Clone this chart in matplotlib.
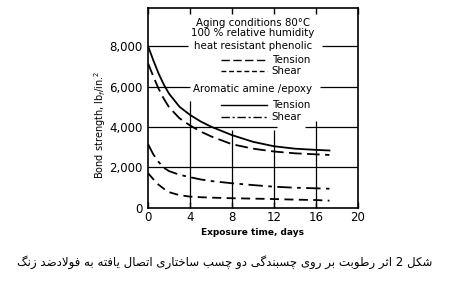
import matplotlib
matplotlib.use("Agg")
import matplotlib.pyplot as plt

# data
days = [0, 0.5, 1, 1.5, 2, 3, 4, 5, 6, 8, 10, 12, 14, 16, 17.3]
epoxy_tension = [8000, 7300, 6650, 6100, 5650, 5000, 4600, 4280, 4020, 3600, 3270, 3050, 2930, 2870, 2840]
phenolic_tension = [7150, 6500, 5900, 5400, 4980, 4430, 4080, 3780, 3540, 3150, 2930, 2790, 2700, 2650, 2620]
epoxy_shear = [3150, 2650, 2280, 1990, 1820, 1640, 1520, 1410, 1330, 1220, 1130, 1050, 1000, 970, 950]
phenolic_shear = [1720, 1420, 1150, 950, 780, 630, 560, 530, 510, 480, 460, 440, 410, 390, 360]

x_ticks = [0, 4, 8, 12, 16, 20]
y_ticks = [0, 2000, 4000, 6000, 8000]
y_tick_labels = ["0", "2,000", "4,000", "6,000", "8,000"]

caption = "شکل 2 اثر رطوبت بر روی چسبندگی دو چسب ساختاری اتصال یافته به فولادضد زنگ"

# --- tiny Persian shaper (matplotlib has no complex text layout) ---
# char: (isolated, final, initial, medial); two entries = joins only to the right
FORMS = {
    "ا": ("\uFE8D", "\uFE8E"), "ب": ("\uFE8F", "\uFE90", "\uFE91", "\uFE92"),
    "ت": ("\uFE95", "\uFE96", "\uFE97", "\uFE98"), "ث": ("\uFE99", "\uFE9A", "\uFE9B", "\uFE9C"),
    "چ": ("\uFB7A", "\uFB7B", "\uFB7C", "\uFB7D"), "خ": ("\uFEA5", "\uFEA6", "\uFEA7", "\uFEA8"),
    "د": ("\uFEA9", "\uFEAA"), "ر": ("\uFEAD", "\uFEAE"), "ز": ("\uFEAF", "\uFEB0"),
    "س": ("\uFEB1", "\uFEB2", "\uFEB3", "\uFEB4"), "ش": ("\uFEB5", "\uFEB6", "\uFEB7", "\uFEB8"),
    "ص": ("\uFEB9", "\uFEBA", "\uFEBB", "\uFEBC"), "ض": ("\uFEBD", "\uFEBE", "\uFEBF", "\uFEC0"),
    "ط": ("\uFEC1", "\uFEC2", "\uFEC3", "\uFEC4"), "ف": ("\uFED1", "\uFED2", "\uFED3", "\uFED4"),
    "ک": ("\uFB8E", "\uFB8F", "\uFB90", "\uFB91"), "گ": ("\uFB92", "\uFB93", "\uFB94", "\uFB95"),
    "ل": ("\uFEDD", "\uFEDE", "\uFEDF", "\uFEE0"), "ن": ("\uFEE5", "\uFEE6", "\uFEE7", "\uFEE8"),
    "ه": ("\uFEE9", "\uFEEA", "\uFEEB", "\uFEEC"), "و": ("\uFEED", "\uFEEE"),
    "ی": ("\uFBFC", "\uFBFD", "\uFBFE", "\uFBFF"),
}


def shape(text):
    chars = list(text)
    out = []
    i = 0
    while i < len(chars):
        c = chars[i]
        if c not in FORMS:
            out.append(c)
            i += 1
            continue
        prev = chars[i - 1] if i > 0 else None
        joins_prev = prev in FORMS and len(FORMS[prev]) == 4
        if c == "ل" and i + 1 < len(chars) and chars[i + 1] == "ا":
            out.append("\uFEFC" if joins_prev else "\uFEFB")
            i += 2
            continue
        nxt = chars[i + 1] if i + 1 < len(chars) else None
        joins_next = len(FORMS[c]) == 4 and nxt in FORMS
        f = FORMS[c]
        if joins_prev and joins_next:
            out.append(f[3])
        elif joins_prev:
            out.append(f[1])
        elif joins_next:
            out.append(f[2])
        else:
            out.append(f[0])
        i += 1
    return "".join(reversed(out))


plt.rcParams["font.family"] = ["DejaVu Sans"]

fig = plt.figure(figsize=(4.5, 2.88), dpi=100)
ax = fig.add_axes([0.329, 0.278, 0.466, 0.694])
ax.set_xlim(0, 20)
ax.set_ylim(0, 9880)

# broken grid lines like the original
gk = dict(color="black", lw=0.9, zorder=1)
ax.hlines(2000, 0, 20, **gk)
ax.hlines(4000, 0, 12.3, **gk)
ax.hlines(4000, 15.0, 20, **gk)
ax.hlines(6000, 0, 4.0, **gk)
ax.hlines(6000, 16.4, 20, **gk)
ax.hlines(8000, 0, 3.8, **gk)
ax.hlines(8000, 16.6, 20, **gk)
ax.vlines(4, 0, 5300, **gk)
ax.vlines(8, 0, 3850, **gk)
ax.vlines(12, 0, 3850, **gk)
ax.vlines(16, 0, 4300, **gk)

lw = 1.3
ax.plot(days, epoxy_tension, color="black", lw=lw, zorder=3)
ax.plot(days, phenolic_tension, color="black", lw=lw, dashes=(7, 3), zorder=3)
ax.plot(days, epoxy_shear, color="black", lw=lw, dashes=(8, 3, 2, 3), zorder=3)
ax.plot(days, phenolic_shear, color="black", lw=lw, dashes=(5, 3), zorder=3)

# legend block drawn as text
tk = dict(ha="center", va="center", fontsize=7.4)
ax.text(10, 9140, "Aging conditions 80°C", **tk)
ax.text(10, 8640, "100 % relative humidity", **tk)
ax.text(10, 8000, "heat resistant phenolic", **tk)
ax.text(10, 5900, "Aromatic amine /epoxy", **tk)
lk = dict(ha="left", va="center", fontsize=7.4)
ax.text(11.8, 7310, "Tension", **lk)
ax.text(11.8, 6770, "Shear", **lk)
ax.text(11.8, 5090, "Tension", **lk)
ax.text(11.8, 4500, "Shear", **lk)
sk = dict(color="black", lw=1.0)
ax.plot([7.0, 11.3], [7310, 7310], dashes=(6, 2.5), **sk)
ax.plot([7.0, 11.3], [6770, 6770], dashes=(3.5, 2), **sk)
ax.plot([7.0, 11.3], [5090, 5090], **sk)
ax.plot([7.0, 11.3], [4500, 4500], dashes=(6, 2, 1.5, 2), **sk)

ax.set_xticks(x_ticks)
ax.set_yticks(y_ticks)
ax.set_yticklabels(y_tick_labels)
ax.tick_params(axis="x", direction="in", length=4, width=1, top=True, labelsize=8.5, pad=2.5)
ax.tick_params(axis="y", length=0, labelsize=8.5, pad=4)
for s in ax.spines.values():
    s.set_linewidth(1.2)

fig.text(0.562, 0.191, "Exposure time, days", ha="center", va="center",
         fontsize=6.5, fontweight="bold")
fig.text(0.222, 0.566, r"Bond strength, lb$_f$/in.$^2$", ha="center", va="center",
         rotation=90, fontsize=7)
fig.text(0.5, 0.09, shape(caption), ha="center", va="center", fontsize=8.5)

fig.savefig("out.png", dpi=100)
